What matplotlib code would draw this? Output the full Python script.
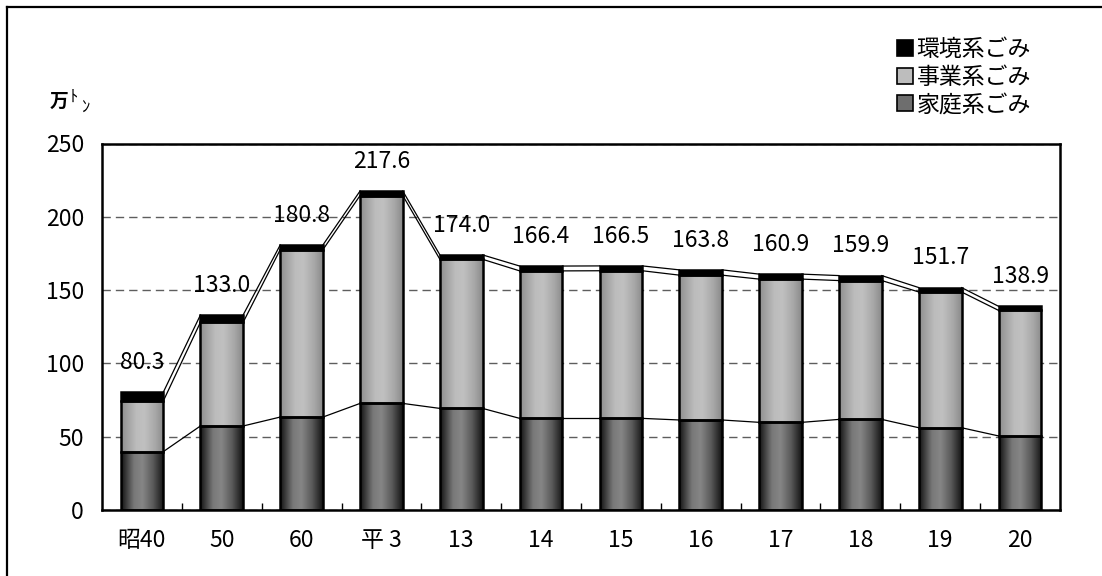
import matplotlib
matplotlib.use('Agg')
import matplotlib.pyplot as plt
import numpy as np
from matplotlib.colors import LinearSegmentedColormap
from matplotlib.patches import Patch
from matplotlib.lines import Line2D

plt.rcParams['font.family'] = ['Noto Sans CJK JP', 'DejaVu Sans']

# データ（万トン）
years = ['昭40', '50', '60', '平 3', '13', '14', '15', '16', '17', '18', '19', '20']
katei = [39.8, 57.3, 63.4, 72.7, 69.3, 62.5, 62.5, 61.4, 59.8, 61.8, 56.1, 50.5]
jigyo = [34.5, 70.7, 114.2, 141.8, 101.7, 100.6, 100.7, 98.8, 97.7, 94.7, 92.6, 85.6]
kankyo = [6.0, 5.0, 3.2, 3.1, 3.0, 3.3, 3.3, 3.6, 3.4, 3.4, 3.0, 2.8]
totals = [80.3, 133.0, 180.8, 217.6, 174.0, 166.4, 166.5, 163.8, 160.9, 159.9, 151.7, 138.9]
series_names = ['環境系ごみ', '事業系ごみ', '家庭系ごみ']

W, H = 1102, 576
fig = plt.figure(figsize=(W / 100, H / 100), dpi=100)
ax = fig.add_axes([102 / W, 1 - 510 / H, (1060 - 102) / W, (510 - 143.5) / H])

x = np.arange(len(years))
w = 0.535
k = np.array(katei)
j = np.array(jigyo)
e = np.array(kankyo)

b1 = ax.bar(x, k, w, facecolor='none', edgecolor='black', linewidth=1.8, zorder=3)
b2 = ax.bar(x, j, w, bottom=k, facecolor='none', edgecolor='black', linewidth=1.8, zorder=3)
b3 = ax.bar(x, e, w, bottom=k + j, facecolor='black', edgecolor='black', linewidth=1.8, zorder=3)

# 円柱っぽいグラデーション
grad = np.linspace(0, 1, 128).reshape(1, -1)
cm_k = LinearSegmentedColormap.from_list('katei', [(0, '#121212'), (0.3, '#787878'), (0.5, '#868686'),
                                                   (0.75, '#5a5a5a'), (1, '#141414')])
cm_j = LinearSegmentedColormap.from_list('jigyo', [(0, '#8e8e8e'), (0.35, '#bcbcbc'), (0.55, '#c0c0c0'),
                                                   (0.8, '#a8a8a8'), (1, '#8a8a8a')])
for bars, cm in ((b1, cm_k), (b2, cm_j)):
    for p in bars:
        x0, y0 = p.get_x(), p.get_y()
        ax.imshow(grad, cmap=cm, extent=(x0, x0 + p.get_width(), y0, y0 + p.get_height()),
                  aspect='auto', interpolation='bilinear', zorder=2)

# 区分線
for lv in (k, k + j, k + j + e):
    for i in range(len(x) - 1):
        ax.plot([x[i] + w / 2, x[i + 1] - w / 2], [lv[i], lv[i + 1]], color='black', lw=0.9, zorder=2.5)

for xi, t in zip(x, totals):
    ax.annotate(f'{t:.1f}', (xi, t), xytext=(0, 21.5), textcoords='offset points',
                ha='center', va='center', fontsize=16.5)

ax.set_xlim(-0.5, len(x) - 0.5)
ax.set_ylim(0, 250)
ax.set_yticks(np.arange(0, 251, 50))
ax.yaxis.grid(True, linestyle=(0, (6, 3.6)), color='#5e5e5e', linewidth=1)
ax.set_axisbelow(True)

ax.set_xticks(x)
ax.set_xticklabels(years)
ax.set_xticks(x[:-1] + 0.5, minor=True)
ax.tick_params(axis='x', which='major', length=0, pad=14, labelsize=16.5)
ax.tick_params(axis='x', which='minor', direction='in', length=5, width=1)
ax.tick_params(axis='y', length=0, pad=13, labelsize=16.5)
for s in ax.spines.values():
    s.set_linewidth(1.8)

# 単位
fig.text(50 / W, 1 - 101 / H, '万', fontsize=13.5, fontweight='bold', va='center', ha='left')
fig.text(74 / W, 1 - 97 / H, 'ﾄ', fontsize=12, va='center', ha='center')
fig.text(86 / W, 1 - 107 / H, 'ﾝ', fontsize=12, va='center', ha='center')

handles = [Patch(facecolor='black', edgecolor='black', lw=1.2),
           Patch(facecolor='#bdbdbd', edgecolor='black', lw=1.2),
           Patch(facecolor='#6e6e6e', edgecolor='black', lw=1.2)]
fig.legend(handles, series_names, loc='upper left', bbox_to_anchor=(897 / W, 1 - 38 / H),
           frameon=False, fontsize=16.5, handlelength=0.7, handleheight=0.7, handletextpad=0.15,
           labelspacing=0.2, borderpad=0, borderaxespad=0)

# 外枠（上と左だけ見えている）
fig.add_artist(Line2D([7 / W, 7 / W], [0, 1 - 7 / H], color='black', lw=1.6, transform=fig.transFigure))
fig.add_artist(Line2D([7 / W, 1], [1 - 7 / H, 1 - 7 / H], color='black', lw=1.6, transform=fig.transFigure))

fig.savefig('out.png', dpi=100)
